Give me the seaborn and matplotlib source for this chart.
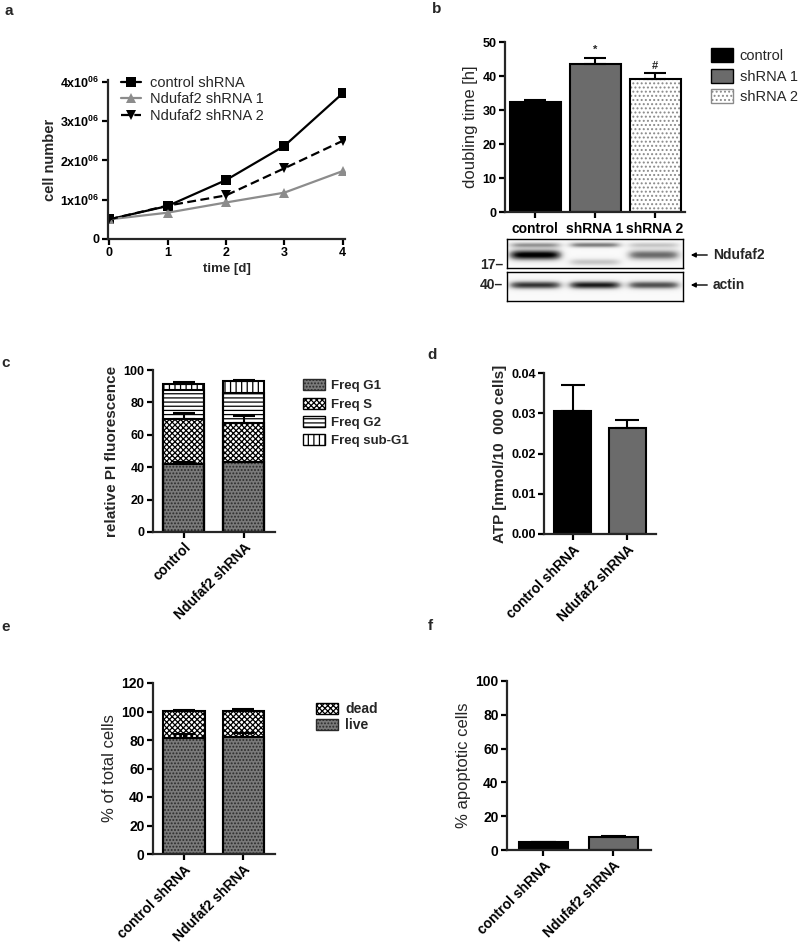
import numpy as np
import pandas as pd
import matplotlib
matplotlib.use('Agg')
import matplotlib.pyplot as plt
import seaborn as sns
from matplotlib.patches import Patch, Rectangle

# ---------------- data ----------------
days = [0, 1, 2, 3, 4]
growth_labels = ['control shRNA', 'Ndufaf2 shRNA 1', 'Ndufaf2 shRNA 2']
growth_control = [0.50e6, 0.84e6, 1.50e6, 2.37e6, 3.71e6]
growth_sh1 = [0.50e6, 0.67e6, 0.93e6, 1.18e6, 1.73e6]
growth_sh2 = [0.50e6, 0.85e6, 1.11e6, 1.80e6, 2.50e6]
growth_ticks = [0, 1e6, 2e6, 3e6, 4e6]
growth_ticklabels = ['0', '1x10$^{06}$', '2x10$^{06}$', '3x10$^{06}$', '4x10$^{06}$']

dbl_groups = ['control', 'shRNA 1', 'shRNA 2']
dbl_mean = [32.5, 43.5, 39.2]
dbl_err = [0.3, 1.8, 1.6]
dbl_sig = ['', '*', '#']

blot_lane_pos = [0.16, 0.50, 0.835]
ndufaf2_upper = [0.45, 0.55, 0.28]
ndufaf2_main = [1.00, 0.00, 0.62]
ndufaf2_lower = [0.00, 0.30, 0.00]
actin_band = [0.80, 0.88, 0.72]

cc_groups = ['control', 'Ndufaf2 shRNA']
cc_phases = ['Freq G1', 'Freq S', 'Freq G2', 'Freq sub-G1']
cc_G1 = [42.2, 43.0]
cc_S = [27.8, 24.5]
cc_G2 = [17.6, 18.6]
cc_subG1 = [3.7, 6.9]
cc_err_G1 = [0.8, 0.5]
cc_err_S = [3.7, 4.1]
cc_err_top = [1.0, 0.8]

atp_groups = ['control shRNA', 'Ndufaf2 shRNA']
atp_mean = [0.0306, 0.0264]
atp_err = [0.0065, 0.0019]

via_groups = ['control shRNA', 'Ndufaf2 shRNA']
via_live = [81.7, 82.2]
via_dead = [18.7, 18.2]
via_err_live = [2.6, 2.6]
via_err_top = [0.9, 1.6]

apo_groups = ['control shRNA', 'Ndufaf2 shRNA']
apo_mean = [4.5, 7.5]
apo_err = [0.5, 0.6]

# ---------------- style ----------------
sns.set_theme(style='ticks')
plt.rcParams['font.family'] = ['Liberation Sans', 'DejaVu Sans']
plt.rcParams['mathtext.fontset'] = 'custom'
plt.rcParams['mathtext.rm'] = 'Liberation Sans'
plt.rcParams['mathtext.bf'] = 'Liberation Sans:bold'
plt.rcParams['mathtext.default'] = 'bf'
plt.rcParams['hatch.linewidth'] = 0.9
plt.rcParams['axes.linewidth'] = 1.6

W, H = 800, 944
fig = plt.figure(figsize=(8, 9.44), dpi=100)
fig.patch.set_facecolor('white')

CHECK = 'xxxxxx'
SPECK = '.....'
SPECK_FACE = '#7a7a7a'
SPECK_COL = '#2a2a2a'


def add_ax(x0, y0, x1, y1):
    return fig.add_axes([x0 / W, 1 - y1 / H, (x1 - x0) / W, (y1 - y0) / H])


def ftext(x, y, s, **kw):
    fig.text(x / W, 1 - y / H, s, **kw)


def base_style(ax, tick_fs=9):
    sns.despine(ax=ax)
    ax.tick_params(width=1.6, length=4, direction='out', pad=2, colors='black',
                   labelsize=tick_fs)
    for lab in ax.get_yticklabels():
        lab.set_fontweight('bold')
    ax.set_facecolor('white')


def restyle(ax, patches, face, hatch=None, hcolor='black', lw=1.5):
    for p in patches:
        p.set_facecolor(face)
        p.set_linewidth(0)
        if hatch:
            p.set_hatch(hatch)
            p.set_edgecolor(hcolor)
        else:
            p.set_edgecolor(face)
        ax.add_patch(Rectangle(p.get_xy(), p.get_width(), p.get_height(), fill=False,
                               ec='black', lw=lw, zorder=p.get_zorder() + 0.05))


def up_err(ax, xs, tops, errs, cap=8):
    ax.errorbar(xs, tops, yerr=[np.zeros(len(errs)), errs], fmt='none', ecolor='black',
                elinewidth=1.5, capsize=cap, capthick=1.5, zorder=6)


def bars(ax, groups, vals, width):
    n0 = len(ax.patches)
    sns.barplot(x=groups, y=vals, order=groups, width=width, ax=ax, errorbar=None,
                color='white', saturation=1)
    return ax.patches[n0:]


def rot_labels(ax, labels, fs=10, weight='bold'):
    ax.set_xticks(range(len(labels)))
    ax.set_xticklabels(labels, rotation=45, ha='right', rotation_mode='anchor',
                       fontsize=fs, fontweight=weight)


# ---------------- panel a ----------------
axA = add_ax(108, 80, 345, 239)
df_growth = pd.DataFrame({
    'day': days * 3,
    'cells': growth_control + growth_sh1 + growth_sh2,
    'group': [g for g in growth_labels for _ in days],
})
sns.lineplot(data=df_growth, x='day', y='cells', hue='group', style='group',
             palette={growth_labels[0]: 'black', growth_labels[1]: '#8c8c8c',
                      growth_labels[2]: 'black'},
             markers={growth_labels[0]: 's', growth_labels[1]: '^', growth_labels[2]: 'v'},
             dashes={growth_labels[0]: '', growth_labels[1]: '', growth_labels[2]: (4, 2)},
             markersize=6.5, markeredgewidth=0, linewidth=1.6, ax=axA)
axA.set_xlim(-0.02, 4.04)
axA.set_ylim(0, 4.05e6)
axA.set_xticks(days)
axA.set_yticks(growth_ticks)
axA.set_yticklabels(growth_ticklabels)
base_style(axA, 9)
for lab in axA.get_xticklabels():
    lab.set_fontweight('bold')
axA.set_xlabel('time [d]', fontsize=9.5, fontweight='bold', labelpad=3)
axA.set_ylabel('cell number', fontsize=10.5, fontweight='bold', labelpad=2)
h, l = axA.get_legend_handles_labels()
axA.legend(h, l, loc='upper left', bbox_to_anchor=(0.03, 1.06), frameon=False,
           fontsize=10.5, handlelength=1.4, handletextpad=0.6, labelspacing=0.15,
           borderaxespad=0)

# ---------------- panel b ----------------
axB = add_ax(505, 42, 685, 212)
pb = bars(axB, dbl_groups, dbl_mean, 0.85)
restyle(axB, [pb[0]], 'black')
restyle(axB, [pb[1]], '#6b6b6b')
restyle(axB, [pb[2]], 'white', '....', '#8a8a8a')
up_err(axB, range(3), dbl_mean, dbl_err, cap=8)
for i, s in enumerate(dbl_sig):
    if s:
        axB.text(i, dbl_mean[i] + dbl_err[i] + 0.8, s, ha='center', va='bottom',
                 fontsize=8, fontweight='bold')
axB.set_xlim(-0.5, 2.5)
axB.set_ylim(0, 50)
axB.set_yticks([0, 10, 20, 30, 40, 50])
base_style(axB, 9)
axB.set_xticks(range(3))
axB.set_xticklabels(dbl_groups, fontsize=10, fontweight='bold')
axB.tick_params(axis='x', pad=3)
axB.set_ylabel('doubling time [h]', fontsize=12, labelpad=3)
axB.legend(handles=[Patch(fc='black', ec='black'), Patch(fc='#6b6b6b', ec='black'),
                    Patch(fc='white', ec='#8a8a8a', hatch='....')],
           labels=dbl_groups, loc='upper left', bbox_to_anchor=(1.11, 1.0), frameon=False,
           fontsize=10.5, handlelength=1.5, handleheight=1.1, handletextpad=0.5,
           labelspacing=0.4, borderaxespad=0)


def blot_image(bands, nrow=60, ncol=240):
    x = np.linspace(0, 1, ncol)
    y = np.linspace(0, 1, nrow)
    img = np.full((nrow, ncol), 0.04)
    for yc, ys, ints in bands:
        for lc, a in zip(blot_lane_pos, ints):
            px = np.exp(-((x - lc) / 0.15) ** 6)
            py = np.exp(-0.5 * ((y - yc) / ys) ** 2)
            img += a * np.outer(py, px)
    return img


axW1 = add_ax(507, 239, 683, 268)
axW1.imshow(blot_image([(0.2, 0.07, ndufaf2_upper), (0.55, 0.13, ndufaf2_main),
                        (0.8, 0.09, ndufaf2_lower)]),
            cmap='Greys', vmin=0, vmax=1.0, aspect='auto', extent=[0, 1, 1, 0])
axW2 = add_ax(507, 272, 683, 301)
axW2.imshow(blot_image([(0.45, 0.1, actin_band)]),
            cmap='Greys', vmin=0, vmax=1.0, aspect='auto', extent=[0, 1, 1, 0])
for a in (axW1, axW2):
    a.set_xticks([])
    a.set_yticks([])
    for sp in a.spines.values():
        sp.set_linewidth(1.0)
        sp.set_color('black')
ftext(503, 265, '17\u2013', ha='right', va='center', fontsize=10, fontweight='bold')
ftext(503, 285, '40\u2013', ha='right', va='center', fontsize=10, fontweight='bold')
for yy, name in [(255, 'Ndufaf2'), (285, 'actin')]:
    fig.patches.append(matplotlib.patches.FancyArrowPatch(
        (710 / W, 1 - yy / H), (688 / W, 1 - yy / H), transform=fig.transFigure,
        arrowstyle='-|>', mutation_scale=7, lw=1.0, color='black'))
    ftext(713, yy, name, ha='left', va='center', fontsize=10, fontweight='bold')

# ---------------- panel c ----------------
axC = add_ax(153, 370, 275, 532)
cum1 = np.array(cc_G1)
cum2 = cum1 + np.array(cc_S)
cum3 = cum2 + np.array(cc_G2)
cum4 = cum3 + np.array(cc_subG1)
cw = 0.68
restyle(axC, bars(axC, cc_groups, list(cum4), cw), 'white', '|||', 'black')
restyle(axC, bars(axC, cc_groups, list(cum3), cw), 'white', '----', 'black')
restyle(axC, bars(axC, cc_groups, list(cum2), cw), 'white', CHECK, 'black')
restyle(axC, bars(axC, cc_groups, list(cum1), cw), SPECK_FACE, SPECK, SPECK_COL)
up_err(axC, range(2), cum1, cc_err_G1, cap=8)
up_err(axC, range(2), cum2, cc_err_S, cap=8)
up_err(axC, range(2), cum4, cc_err_top, cap=8)
axC.set_xlim(-0.51, 1.52)
axC.set_ylim(0, 100)
axC.set_yticks([0, 20, 40, 60, 80, 100])
base_style(axC, 9)
rot_labels(axC, cc_groups, 10)
axC.set_ylabel('relative PI fluorescence', fontsize=11, fontweight='bold', labelpad=3)
axC.legend(handles=[Patch(fc=SPECK_FACE, ec=SPECK_COL, hatch=SPECK),
                    Patch(fc='white', ec='black', hatch=CHECK),
                    Patch(fc='white', ec='black', hatch='----'),
                    Patch(fc='white', ec='black', hatch='|||')],
           labels=cc_phases, loc='upper left', bbox_to_anchor=(1.19, 0.975), frameon=False,
           prop={'size': 9.5, 'weight': 'bold'}, handlelength=1.6, handleheight=0.9,
           handletextpad=0.5, labelspacing=0.4, borderaxespad=0)

# ---------------- panel d ----------------
axD = add_ax(544, 373, 656, 534)
pd_ = bars(axD, atp_groups, atp_mean, 0.67)
restyle(axD, [pd_[0]], 'black')
restyle(axD, [pd_[1]], '#6b6b6b')
up_err(axD, range(2), atp_mean, atp_err, cap=8.5)
axD.set_xlim(-0.52, 1.52)
axD.set_ylim(0, 0.04)
axD.set_yticks([0, 0.01, 0.02, 0.03, 0.04])
axD.set_yticklabels(['0.00', '0.01', '0.02', '0.03', '0.04'])
base_style(axD, 9)
rot_labels(axD, atp_groups, 10)
axD.set_ylabel('ATP [mmol/10  000 cells]', fontsize=11, fontweight='bold', labelpad=3)

# ---------------- panel e ----------------
axE = add_ax(153, 683, 275, 854)
tot = np.array(via_live) + np.array(via_dead)
restyle(axE, bars(axE, via_groups, list(tot), 0.7), 'white', CHECK, 'black')
restyle(axE, bars(axE, via_groups, via_live, 0.7), SPECK_FACE, SPECK, SPECK_COL)
up_err(axE, range(2), via_live, via_err_live, cap=8)
up_err(axE, range(2), tot, via_err_top, cap=8)
axE.set_xlim(-0.52, 1.53)
axE.set_ylim(0, 120)
axE.set_yticks([0, 20, 40, 60, 80, 100, 120])
base_style(axE, 10)
rot_labels(axE, via_groups, 10)
axE.set_ylabel('% of total cells', fontsize=12, labelpad=3)
axE.legend(handles=[Patch(fc='white', ec='black', hatch=CHECK),
                    Patch(fc=SPECK_FACE, ec=SPECK_COL, hatch=SPECK)],
           labels=['dead', 'live'], loc='upper left', bbox_to_anchor=(1.29, 0.92),
           frameon=False, prop={'size': 10, 'weight': 'bold'}, handlelength=1.6,
           handleheight=0.9, handletextpad=0.5, labelspacing=0.15, borderaxespad=0)

# ---------------- panel f ----------------
axF = add_ax(507, 681, 651, 850)
pf = bars(axF, apo_groups, apo_mean, 0.7)
restyle(axF, [pf[0]], 'black')
restyle(axF, [pf[1]], '#6b6b6b')
up_err(axF, range(2), apo_mean, apo_err, cap=9)
axF.set_xlim(-0.52, 1.54)
axF.set_ylim(0, 100)
axF.set_yticks([0, 20, 40, 60, 80, 100])
base_style(axF, 10)
rot_labels(axF, apo_groups, 10)
axF.set_ylabel('% apoptotic cells', fontsize=12, labelpad=3)

# ---------------- panel letters ----------------
for x, y, s in [(9, 11, 'a'), (437, 9, 'b'), (6, 363, 'c'), (432, 355, 'd'),
                (6, 627, 'e'), (430, 626, 'f')]:
    ftext(x, y, s, ha='center', va='center', fontsize=11, fontweight='bold')

fig.savefig('out.png', dpi=100, facecolor='white')
